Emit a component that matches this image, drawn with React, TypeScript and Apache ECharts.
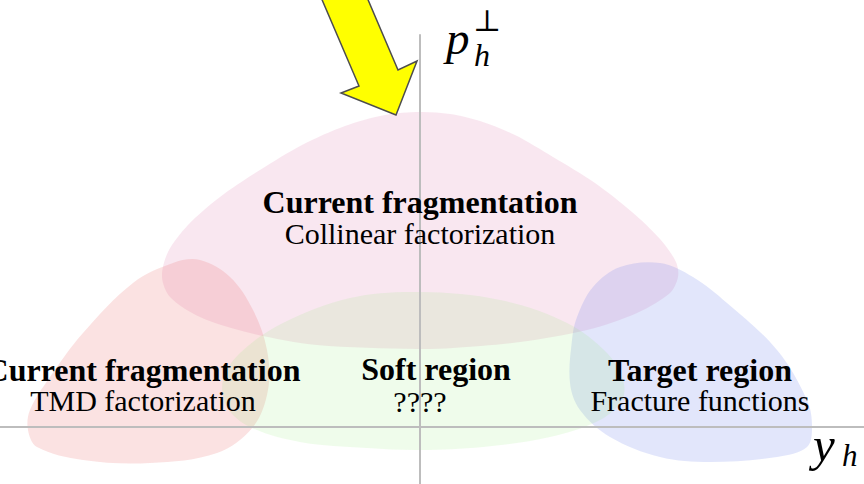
import React, { useEffect, useRef } from "react";
import * as echarts from "echarts";

// Region outlines in axis units (x: along y_h, y: along p_h⊥)
const collinearRegion: number[][] = [
  [0, 315], [30, 313], [60, 306], [95, 292], [133, 270], [175, 244], [212, 215], [240, 188],
  [256, 165], [258, 150], [250, 134], [217, 114], [167, 97], [100, 85], [33, 79], [-3, 78],
  [-103, 82], [-170, 94], [-220, 110], [-250, 130], [-258, 150], [-252, 175], [-232, 202],
  [-200, 230], [-160, 257], [-118, 282], [-75, 301], [-35, 312],
];
const tmdRegion: number[][] = [
  [-220, 167], [-190, 150], [-167, 117], [-153, 77], [-152, 37], [-167, 0], [-203, -26],
  [-270, -36], [-337, -33], [-383, -20], [-392, -3], [-390, 17], [-370, 50], [-337, 94],
  [-287, 144], [-247, 164],
];
const targetRegion: number[][] = [
  [240, 164], [273, 150], [307, 124], [357, 77], [387, 27], [392, 0], [387, -20], [357, -30],
  [290, -35], [240, -30], [190, -10], [160, 17], [150, 44], [152, 87], [157, 110], [173, 140],
  [200, 160],
];
const softRegion: number[][] = [
  [0, 135], [80, 127], [147, 104], [187, 74], [203, 47], [202, 27], [180, 7], [130, -10],
  [63, -20], [0, -23], [-53, -21], [-120, -15], [-170, 0], [-193, 20], [-197, 47], [-180, 74],
  [-137, 104], [-70, 129],
];
const arrowShape: number[][] = [
  [-100, 432], [-61, 341], [-79, 334], [-24, 312], [-3, 366], [-22, 357], [-54, 432],
];

const regionTitles = ["Current fragmentation", "Current fragmentation", "Soft region", "Target region"];
const regionSubtitles = ["Collinear factorization", "TMD factorization", "????", "Fracture functions"];

const blobSeries = (pts: number[][], fill: string, smooth: number, extra: any = {}) => ({
  type: "custom",
  coordinateSystem: "cartesian2d",
  clip: false,
  silent: true,
  z: 1,
  data: [[0, 0]],
  renderItem: (_params: any, api: any) => ({
    type: "polygon",
    shape: { points: pts.map((p) => api.coord(p)), smooth },
    style: { fill, ...extra },
  }),
});

export default function App() {
  const ref = useRef<HTMLDivElement>(null);
  useEffect(() => {
    document.body.style.margin = "0";
    if (!ref.current) return;
    const chart = echarts.init(ref.current, null, { renderer: "svg" });
    const rich = {
      b: { font: 'bold 32px "Liberation Serif"', lineHeight: 31, fill: "#000", align: "center" },
      r: { font: '30px "Liberation Serif"', lineHeight: 31, fill: "#000", align: "center" },
    };
    const pair = (title: string, sub: string, x: number, y: number) => ({
      type: "text",
      z: 10,
      style: {
        text: `{b|${title}}\n{r|${sub}}`,
        rich,
        x,
        y,
        fill: "#000",
        textAlign: "center",
        textVerticalAlign: "middle",
      },
    });
    const single = (title: string, x: number, y: number) => ({
      type: "text",
      z: 10,
      style: { text: `{b|${title}}`, rich, x, y, fill: "#000", textAlign: "center", textVerticalAlign: "middle" },
    });
    chart.setOption({
      animation: false,
      grid: { left: 0, right: 0, top: 35, bottom: 0 },
      xAxis: {
        type: "value", min: -420, max: 444, z: 5,
        axisLine: { show: true, onZero: true, lineStyle: { color: "#bdbdbd", width: 2 } },
        axisTick: { show: false }, axisLabel: { show: false }, splitLine: { show: false },
      },
      yAxis: {
        type: "value", min: -57, max: 392, z: 5,
        axisLine: { show: true, onZero: true, lineStyle: { color: "#bdbdbd", width: 2 } },
        axisTick: { show: false }, axisLabel: { show: false }, splitLine: { show: false },
      },
      series: [
        blobSeries(collinearRegion, "rgba(220,120,170,0.18)", 0.3),
        blobSeries(tmdRegion, "rgba(235,110,110,0.2)", 0.35),
        blobSeries(targetRegion, "rgba(110,130,235,0.2)", 0.35),
        blobSeries(softRegion, "rgba(150,235,120,0.15)", 0.35),
        {
          ...blobSeries(arrowShape, "#ffff00", 0, { stroke: "#4d4d4d", lineWidth: 1.5, lineJoin: "miter" }),
          z: 6,
        },
      ],
      graphic: [
        pair(regionTitles[0], regionSubtitles[0], 420, 217.5),
        pair(regionTitles[1], regionSubtitles[1], 143, 385),
        single(regionTitles[2], 436, 369),
        {
          type: "text", z: 10,
          style: { text: regionSubtitles[2], x: 420, y: 401, font: '30px "Liberation Serif"', fill: "#000", textAlign: "center", textVerticalAlign: "middle" },
        },
        pair(regionTitles[3], regionSubtitles[3], 700, 385),
        {
          type: "text", z: 10,
          style: { text: "p", x: 446, y: 38, font: 'italic 47px "Liberation Serif"', fill: "#000", textAlign: "left", textVerticalAlign: "middle" },
        },
        {
          type: "text", z: 10,
          style: { text: "h", x: 474, y: 55, font: 'italic 32px "Liberation Serif"', fill: "#000", textAlign: "left", textVerticalAlign: "middle" },
        },
        {
          type: "text", z: 10,
          style: { text: "⊥", x: 487, y: 20, font: '30px "DejaVu Serif"', fill: "#000", textAlign: "center", textVerticalAlign: "middle" },
        },
        {
          type: "text", z: 10,
          style: { text: "y", x: 813, y: 444, font: 'italic 49px "Liberation Serif"', fill: "#000", textAlign: "left", textVerticalAlign: "middle" },
        },
        {
          type: "text", z: 10,
          style: { text: "h", x: 842, y: 455, font: 'italic 31px "Liberation Serif"', fill: "#000", textAlign: "left", textVerticalAlign: "middle" },
        },
      ],
    });
    return () => chart.dispose();
  }, []);
  return <div ref={ref} style={{ width: 864, height: 484 }} />;
}
